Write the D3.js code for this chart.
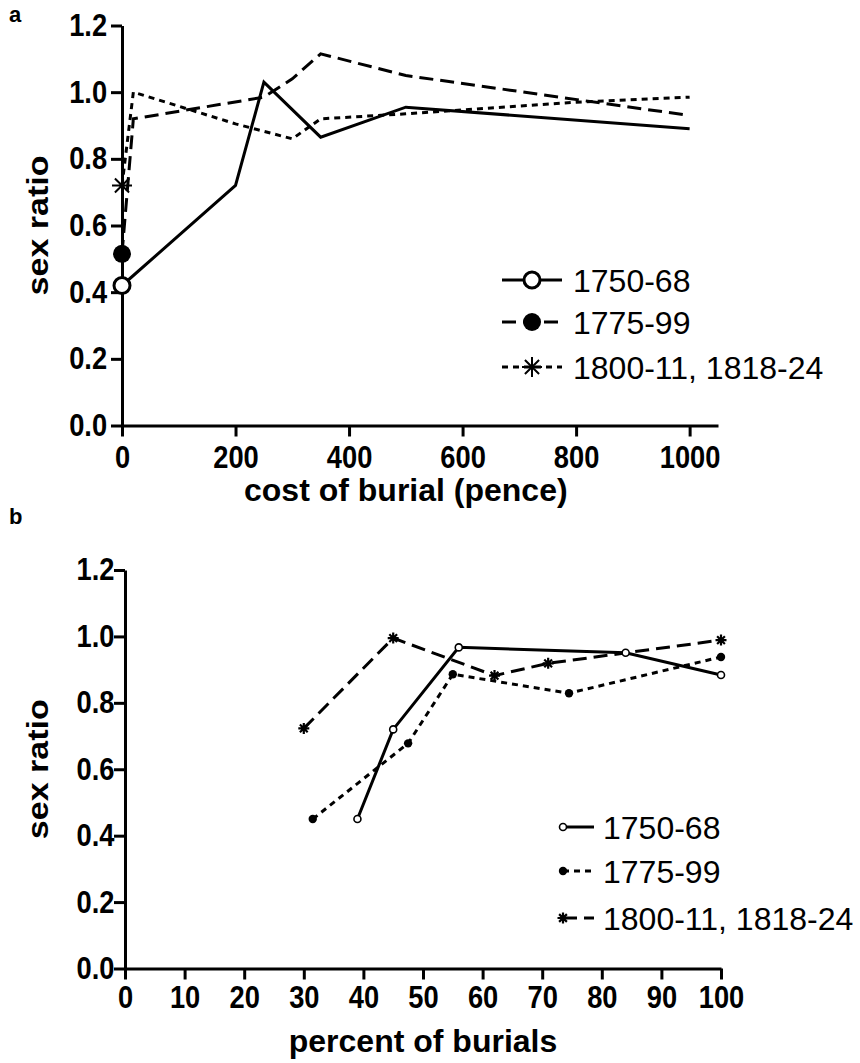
<!DOCTYPE html>
<html>
<head>
<meta charset="utf-8">
<script src="https://cdn.jsdelivr.net/npm/d3@7"></script>
<style>
  html, body { margin: 0; padding: 0; background: #fff; }
  svg { display: block; }
  text { font-family: "Liberation Sans", Arial, sans-serif; fill: #000; }
</style>
</head>
<body>
<svg id="chart" width="860" height="1063"></svg>
<script>
// Panel a: sex ratio by cost of burial (pence)
const costA_1750 = [0, 200, 250, 350, 500, 1000];
const ratioA_1750 = [0.42, 0.72, 1.03, 0.865, 0.955, 0.89];
const costA_1775 = [0, 20, 250, 300, 350, 500, 1000];
const ratioA_1775 = [0.515, 0.92, 0.985, 1.04, 1.115, 1.05, 0.93];
const costA_1800 = [0, 20, 200, 300, 350, 500, 800, 1000];
const ratioA_1800 = [0.72, 1.0, 0.905, 0.86, 0.92, 0.935, 0.97, 0.985];

// Panel b: sex ratio by percent of burials
const pctB_1750 = [39, 45, 56, 84, 100];
const ratioB_1750 = [0.45, 0.72, 0.967, 0.951, 0.884];
const pctB_1775 = [31.5, 47.5, 55, 74.5, 100];
const ratioB_1775 = [0.45, 0.678, 0.886, 0.829, 0.938];
const pctB_1800 = [30, 45, 62, 71, 100];
const ratioB_1800 = [0.723, 0.995, 0.882, 0.919, 0.989];

const seriesNames = ["1750-68", "1775-99", "1800-11, 1818-24"];
const yTicks = [0, 0.2, 0.4, 0.6, 0.8, 1.0, 1.2];
const xTicksA = [0, 200, 400, 600, 800, 1000];
const xTicksB = [0, 10, 20, 30, 40, 50, 60, 70, 80, 90, 100];

const SX = 0.88; // horizontal squeeze of the bold tick lettering
const svg = d3.select("#chart");

const zip = (xs, ys) => xs.map((x, i) => ({x, y: ys[i]}));

function styleAxis(g) {
  g.select(".domain").attr("stroke", "#000").attr("stroke-width", 3);
  g.selectAll(".tick line").attr("stroke", "#000").attr("stroke-width", 3);
  g.selectAll(".tick text")
    .attr("font-size", 31).attr("font-weight", "bold")
    .attr("font-family", "'Liberation Sans', Arial, sans-serif")
    .attr("transform", `scale(${SX},1)`);
}

function starPath(r) {
  const p = [];
  for (let k = 0; k < 4; k++) {
    const a = k * Math.PI / 4;
    const dx = r * Math.cos(a), dy = r * Math.sin(a);
    p.push(`M${-dx},${-dy}L${dx},${dy}`);
  }
  return p.join("");
}

function drawMarker(g, kind, cx, cy, big) {
  if (kind === "open") {
    g.append("circle").attr("cx", cx).attr("cy", cy).attr("r", big ? 8 : 3.5)
      .attr("fill", "#fff").attr("stroke", "#000").attr("stroke-width", big ? 3 : 1.6);
  } else if (kind === "filled") {
    g.append("circle").attr("cx", cx).attr("cy", cy).attr("r", big ? 9 : 4.2)
      .attr("fill", "#000");
  } else {
    g.append("path").attr("transform", `translate(${cx},${cy})`)
      .attr("d", starPath(big ? 10 : 5.5))
      .attr("stroke", "#000").attr("stroke-width", big ? 2 : 2.2).attr("fill", "none");
  }
}

function label(parent, x, y, str, size, weight, anchor, sx, rotate) {
  return parent.append("text")
    .attr("transform", `translate(${x},${y}) scale(${sx},1)` + (rotate ? " rotate(-90)" : ""))
    .attr("font-size", size).attr("font-weight", weight)
    .attr("text-anchor", anchor).text(str);
}

// ---------- Panel a ----------
const xA = d3.scaleLinear().domain([0, 1050]).range([122, 718]);
const yA = d3.scaleLinear().domain([0, 1.2]).range([425.5, 25.5]);

const gA = svg.append("g");
const lineA = d3.line().x(d => xA(d.x)).y(d => yA(d.y));

const seriesA = [
  {data: zip(costA_1750, ratioA_1750), dash: null, marker: "open"},
  {data: zip(costA_1775, ratioA_1775), dash: "14,7", marker: "filled"},
  {data: zip(costA_1800, ratioA_1800), dash: "6,5", marker: "star"}
];

seriesA.forEach(s => {
  gA.append("path").attr("d", lineA(s.data)).attr("fill", "none")
    .attr("stroke", "#000").attr("stroke-width", 3)
    .attr("stroke-dasharray", s.dash);
});

gA.append("g").attr("transform", `translate(0,${yA(0)})`)
  .call(d3.axisBottom(xA).tickValues(xTicksA).tickSize(11).tickSizeOuter(0).tickPadding(10).tickFormat(d3.format("d")))
  .call(styleAxis);

gA.append("g").attr("transform", `translate(${xA(0)},0)`)
  .call(d3.axisLeft(yA).tickValues(yTicks).tickSize(11).tickSizeOuter(0).tickPadding(6).tickFormat(d3.format(".1f")))
  .call(styleAxis);

seriesA.forEach(s => drawMarker(gA, s.marker, xA(s.data[0].x), yA(s.data[0].y), true));

// legend a
const legA = [280, 322, 367];
seriesA.forEach((s, i) => {
  gA.append("line").attr("x1", 502).attr("x2", 562).attr("y1", legA[i]).attr("y2", legA[i])
    .attr("stroke", "#000").attr("stroke-width", 3).attr("stroke-dasharray", s.dash);
  drawMarker(gA, s.marker, 532, legA[i], true);
  label(gA, 573, legA[i] + 11.5, seriesNames[i], 32, "normal", "start", 1);
});

label(gA, 48, yA(0.6), "sex ratio", 34, "bold", "middle", SX, true);
label(gA, (xA(0) + xA(1000)) / 2, 501, "cost of burial (pence)", 32, "bold", "middle", 1);
label(gA, 9, 22, "a", 22, "bold", "start", 1);

// ---------- Panel b ----------
const xB = d3.scaleLinear().domain([0, 100]).range([125, 721]);
const yB = d3.scaleLinear().domain([0, 1.2]).range([968.5, 570]);

const gB = svg.append("g");
const lineB = d3.line().x(d => xB(d.x)).y(d => yB(d.y));

const seriesB = [
  {data: zip(pctB_1750, ratioB_1750), dash: null, marker: "open"},
  {data: zip(pctB_1775, ratioB_1775), dash: "6,5", marker: "filled"},
  {data: zip(pctB_1800, ratioB_1800), dash: "14,7", marker: "star"}
];

seriesB.forEach(s => {
  gB.append("path").attr("d", lineB(s.data)).attr("fill", "none")
    .attr("stroke", "#000").attr("stroke-width", 3)
    .attr("stroke-dasharray", s.dash);
});
seriesB.forEach(s => s.data.forEach(d => drawMarker(gB, s.marker, xB(d.x), yB(d.y), false)));

gB.append("g").attr("transform", `translate(0,${yB(0)})`)
  .call(d3.axisBottom(xB).tickValues(xTicksB).tickSize(11).tickSizeOuter(0).tickPadding(7).tickFormat(d3.format("d")))
  .call(styleAxis);

gB.append("g").attr("transform", `translate(${xB(0)},0)`)
  .call(d3.axisLeft(yB).tickValues(yTicks).tickSize(11).tickSizeOuter(0).tickPadding(1).tickFormat(d3.format(".1f")))
  .call(styleAxis);

// legend b
const legB = [827, 871, 918];
seriesB.forEach((s, i) => {
  gB.append("line").attr("x1", 563).attr("x2", 594).attr("y1", legB[i]).attr("y2", legB[i])
    .attr("stroke", "#000").attr("stroke-width", 3).attr("stroke-dasharray", s.dash);
  drawMarker(gB, s.marker, 563, legB[i], false);
  label(gB, 603, legB[i] + 11.5, seriesNames[i], 32, "normal", "start", 1);
});

label(gB, 48, yB(0.6), "sex ratio", 34, "bold", "middle", SX, true);
label(gB, (xB(0) + xB(100)) / 2, 1052, "percent of burials", 32, "bold", "middle", 1);
label(gB, 9, 524, "b", 22, "bold", "start", 1);
</script>
</body>
</html>
